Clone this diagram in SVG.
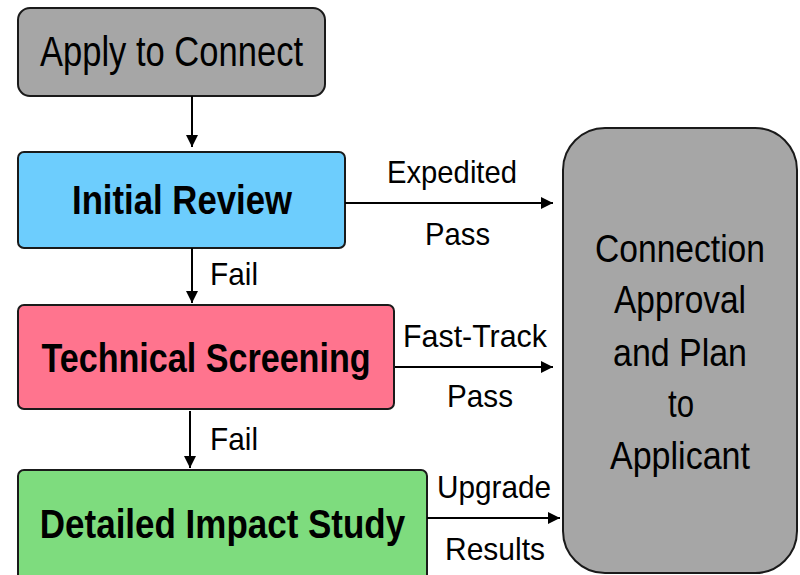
<svg xmlns="http://www.w3.org/2000/svg" width="800" height="575" viewBox="0 0 800 575">
<style>
.box{stroke:#1a1a1a;stroke-width:2}
.t{font-family:"Liberation Sans",Arial,sans-serif;fill:#000;text-anchor:middle}
.b{font-weight:bold;font-size:41px}
.n{font-size:38px}
.l{font-size:32px}
.c{stroke:#000;stroke-width:2;fill:none;marker-end:url(#ah)}
</style>
<defs>
<marker id="ah" markerWidth="12" markerHeight="12" refX="12" refY="6" orient="auto" markerUnits="userSpaceOnUse">
<path d="M0,0 L12,6 L0,12 Z" fill="#000"/>
</marker>
</defs>
<rect width="800" height="575" fill="#fff"/>
<g id="apply">
<rect class="box" x="18" y="8" width="307" height="88" rx="12" fill="#a6a6a6"/>
<text class="t" x="171.5" y="66" font-size="43" textLength="263" lengthAdjust="spacingAndGlyphs">Apply to Connect</text>
</g>
<g id="initial">
<rect class="box" x="18" y="152" width="327" height="96" rx="6" fill="#6dcdfd"/>
<text class="t b" transform="translate(182,214) scale(0.847,1)" x="0" y="0">Initial Review</text>
</g>
<g id="technical">
<rect class="box" x="18" y="305" width="376" height="104" rx="6" fill="#ff748e"/>
<text class="t b" transform="translate(206,372) scale(0.832,1)" x="0" y="0">Technical Screening</text>
</g>
<g id="detailed">
<rect class="box" x="18" y="470" width="409" height="120" rx="6" fill="#7edc7e"/>
<text class="t b" transform="translate(222.5,538) scale(0.853,1)" x="0" y="0">Detailed Impact Study</text>
</g>
<g id="approval">
<rect class="box" x="563" y="128" width="234" height="445" rx="42" fill="#a6a6a6"/>
<text class="t n" x="680" y="262" textLength="170" lengthAdjust="spacingAndGlyphs">Connection</text>
<text class="t n" x="680" y="313" textLength="132" lengthAdjust="spacingAndGlyphs">Approval</text>
<text class="t n" x="680" y="366" textLength="134" lengthAdjust="spacingAndGlyphs">and Plan</text>
<text class="t n" x="681" y="417" textLength="26" lengthAdjust="spacingAndGlyphs">to</text>
<text class="t n" x="680" y="469" textLength="140" lengthAdjust="spacingAndGlyphs">Applicant</text>
</g>
<g id="connectors">
<line class="c" x1="192" y1="96" x2="192" y2="147"/>
<line class="c" x1="192" y1="248" x2="192" y2="303"/>
<line class="c" x1="190" y1="411" x2="190" y2="468"/>
<line class="c" x1="345" y1="203" x2="553" y2="203"/>
<line class="c" x1="395" y1="367" x2="553" y2="367"/>
<line class="c" x1="427" y1="518" x2="560" y2="518"/>
<text class="t l" x="234" y="285" textLength="48" lengthAdjust="spacingAndGlyphs">Fail</text>
<text class="t l" x="234" y="450" textLength="48" lengthAdjust="spacingAndGlyphs">Fail</text>
<text class="t l" x="452" y="183" textLength="130" lengthAdjust="spacingAndGlyphs">Expedited</text>
<text class="t l" x="457.5" y="245" textLength="65" lengthAdjust="spacingAndGlyphs">Pass</text>
<text class="t l" x="475" y="347" textLength="144" lengthAdjust="spacingAndGlyphs">Fast-Track</text>
<text class="t l" x="480" y="407" textLength="66" lengthAdjust="spacingAndGlyphs">Pass</text>
<text class="t l" x="494" y="498" textLength="114" lengthAdjust="spacingAndGlyphs">Upgrade</text>
<text class="t l" x="495" y="560" textLength="100" lengthAdjust="spacingAndGlyphs">Results</text>
</g>
</svg>
